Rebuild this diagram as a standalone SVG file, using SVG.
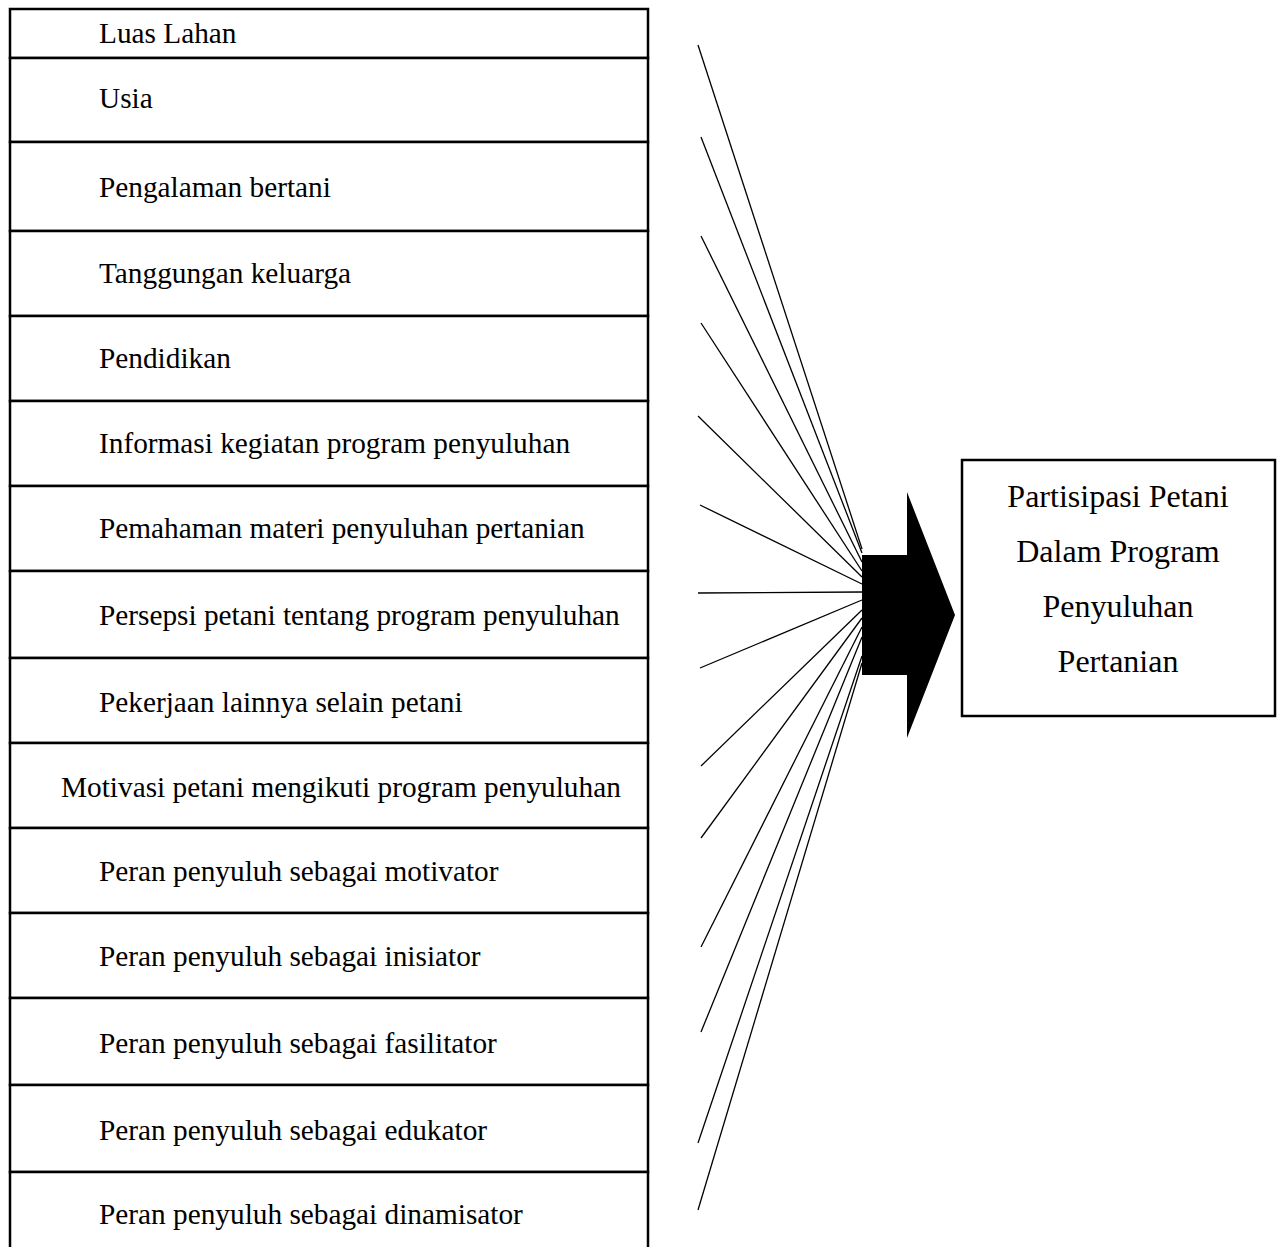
<svg xmlns="http://www.w3.org/2000/svg" width="1277" height="1247" viewBox="0 0 1277 1247">
<style>
.cell{fill:#fff;stroke:#000;stroke-width:2.5}
.t{font-family:"Liberation Serif","Times New Roman",serif;font-size:29.3px;fill:#000}
.tr{font-family:"Liberation Serif","Times New Roman",serif;font-size:32px;fill:#000;text-anchor:middle}
.c{stroke:#000;stroke-width:1.3;fill:none}
</style>
<rect width="1277" height="1247" fill="#fff"/>
<g id="n1"><rect class="cell" x="10" y="9" width="638" height="49"/><text class="t" x="99" y="43">Luas Lahan</text></g>
<g id="n2"><rect class="cell" x="10" y="58" width="638" height="84"/><text class="t" x="99" y="108">Usia</text></g>
<g id="n3"><rect class="cell" x="10" y="142" width="638" height="89"/><text class="t" x="99" y="197">Pengalaman bertani</text></g>
<g id="n4"><rect class="cell" x="10" y="231" width="638" height="85"/><text class="t" x="99" y="283">Tanggungan keluarga</text></g>
<g id="n5"><rect class="cell" x="10" y="316" width="638" height="85"/><text class="t" x="99" y="368">Pendidikan</text></g>
<g id="n6"><rect class="cell" x="10" y="401" width="638" height="85"/><text class="t" x="99" y="453">Informasi kegiatan program penyuluhan</text></g>
<g id="n7"><rect class="cell" x="10" y="486" width="638" height="85"/><text class="t" x="99" y="538">Pemahaman materi penyuluhan pertanian</text></g>
<g id="n8"><rect class="cell" x="10" y="571" width="638" height="87"/><text class="t" x="99" y="625">Persepsi petani tentang program penyuluhan</text></g>
<g id="n9"><rect class="cell" x="10" y="658" width="638" height="85"/><text class="t" x="99" y="712">Pekerjaan lainnya selain petani</text></g>
<g id="n10"><rect class="cell" x="10" y="743" width="638" height="85"/><text class="t" x="61" y="797">Motivasi petani mengikuti program penyuluhan</text></g>
<g id="n11"><rect class="cell" x="10" y="828" width="638" height="85"/><text class="t" x="99" y="881">Peran penyuluh sebagai motivator</text></g>
<g id="n12"><rect class="cell" x="10" y="913" width="638" height="85"/><text class="t" x="99" y="966">Peran penyuluh sebagai inisiator</text></g>
<g id="n13"><rect class="cell" x="10" y="998" width="638" height="87"/><text class="t" x="99" y="1053">Peran penyuluh sebagai fasilitator</text></g>
<g id="n14"><rect class="cell" x="10" y="1085" width="638" height="87"/><text class="t" x="99" y="1140">Peran penyuluh sebagai edukator</text></g>
<g id="n15"><rect class="cell" x="10" y="1172" width="638" height="100"/><text class="t" x="99" y="1224">Peran penyuluh sebagai dinamisator</text></g>
<g id="connectors">
<line class="c" x1="698" y1="45" x2="862" y2="549"/>
<line class="c" x1="701" y1="137" x2="862" y2="553"/>
<line class="c" x1="701" y1="236" x2="862" y2="562"/>
<line class="c" x1="701" y1="323" x2="862" y2="571"/>
<line class="c" x1="698" y1="416" x2="862" y2="577"/>
<line class="c" x1="700" y1="505" x2="862" y2="584"/>
<line class="c" x1="698" y1="593" x2="862" y2="592"/>
<line class="c" x1="700" y1="668" x2="862" y2="600"/>
<line class="c" x1="701" y1="766" x2="862" y2="610"/>
<line class="c" x1="701" y1="838" x2="862" y2="618"/>
<line class="c" x1="701" y1="947" x2="862" y2="627"/>
<line class="c" x1="701" y1="1032" x2="862" y2="637"/>
<line class="c" x1="698" y1="1143" x2="862" y2="656"/>
<line class="c" x1="698" y1="1210" x2="862" y2="663"/>
</g>
<g id="arrow"><polygon points="862,555 907,555 907,492 955,615 907,738 907,675 862,675" fill="#000"/></g>
<g id="result"><rect class="cell" x="962" y="460" width="313" height="256"/>
<text class="tr" x="1118" y="507">Partisipasi Petani</text>
<text class="tr" x="1118" y="562">Dalam Program</text>
<text class="tr" x="1118" y="617">Penyuluhan</text>
<text class="tr" x="1118" y="672">Pertanian</text></g>
</svg>
